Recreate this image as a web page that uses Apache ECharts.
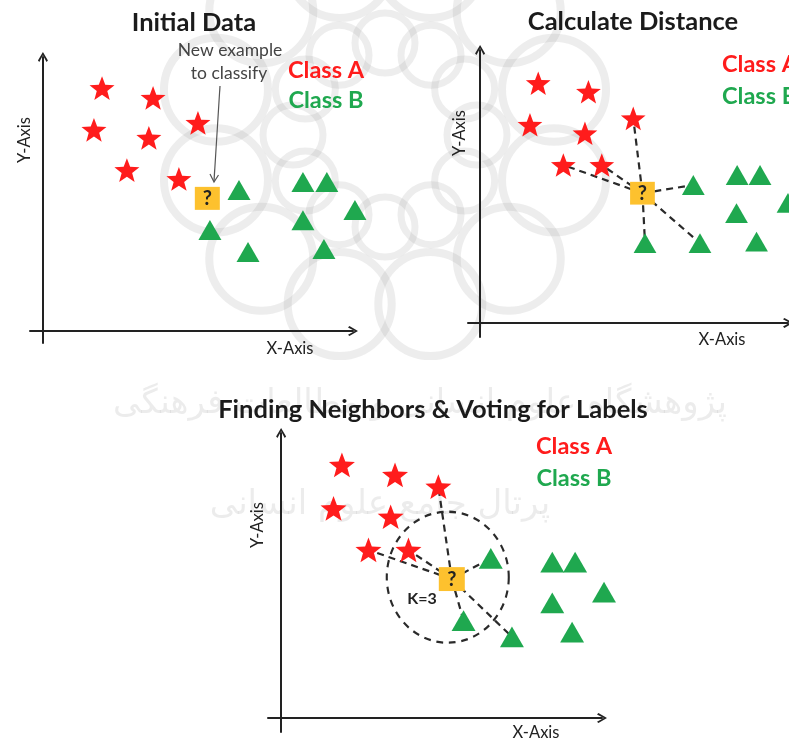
<!DOCTYPE html>
<html><head><meta charset="utf-8">
<script src="https://cdn.jsdelivr.net/npm/echarts@6/dist/echarts.min.js"></script>
<style>html,body{margin:0;padding:0;background:#fff}#c{width:789px;height:742px}</style>
</head><body><div id="c"></div>
<script>
// ---- data: panel 1 "Initial Data" ----
const initAX = [1.83, 3.41, 1.58, 3.28, 4.80, 2.60, 4.21];
const initAY = [8.15, 7.82, 6.75, 6.48, 6.98, 5.40, 5.10];
const initBX = [6.07, 8.05, 8.79, 9.66, 8.05, 5.17, 6.35, 8.70];
const initBY = [4.73, 5.00, 5.00, 4.06, 3.72, 3.39, 2.65, 2.75];
const initQuery = [5.09, 4.45];
// ---- data: panel 2 "Calculate Distance" ----
const distAX = [1.83, 3.41, 1.57, 3.30, 4.82, 2.62, 3.83];
const distAY = [8.17, 7.88, 6.75, 6.46, 6.97, 5.38, 5.38];
const distBX = [6.71, 8.09, 8.81, 9.69, 8.07, 5.19, 6.92, 8.70];
const distBY = [4.70, 5.04, 5.04, 4.09, 3.74, 2.72, 2.72, 2.77];
const distQuery = [5.11, 4.42];
// ---- data: panel 3 "Finding Neighbors & Voting" ----
const voteAX = [1.81, 3.39, 4.68, 1.56, 3.26, 2.60, 3.79];
const voteAY = [8.16, 7.84, 7.46, 6.76, 6.49, 5.42, 5.42];
const voteBX = [6.24, 8.07, 8.75, 9.61, 8.07, 5.43, 6.87, 8.66];
const voteBY = [5.15, 5.03, 5.03, 4.06, 3.71, 3.14, 2.62, 2.77];
const voteQuery = [5.08, 4.48];
const voteCircleCenter = [4.96, 4.54];
// indices joined to the query by dashed distance lines (panels 2 and 3)
const distNeighborsA = [4, 5, 6];
const distNeighborsB = [0, 5, 6];
const voteNeighborsA = [2, 5, 6];
const voteNeighborsB = [0, 5, 6];

const panelTitles = ['Initial Data', 'Calculate Distance', 'Finding Neighbors & Voting for Labels'];
const classLabels = ['Class A', 'Class B'];
const axisNames = ['X-Axis', 'Y-Axis'];
const kLabel = 'K=3';
const noteLines = ['New example', 'to classify'];

const zip = (xs, ys) => xs.map((x, i) => [x, ys[i]]);
const panelsData = [
  {A: zip(initAX, initAY), B: zip(initBX, initBY), q: initQuery},
  {A: zip(distAX, distAY), B: zip(distBX, distBY), q: distQuery, nA: distNeighborsA, nB: distNeighborsB},
  {A: zip(voteAX, voteAY), B: zip(voteBX, voteBY), q: voteQuery, nA: voteNeighborsA, nB: voteNeighborsB, circle: voteCircleCenter}
];

const STAR = 'path://M50,0L62.3,33L97.6,34.5L70,56.5L79.4,90.5L50,71L20.6,90.5L30,56.5L2.4,34.5L37.7,33Z';
const CHEV = 'path://M5,0L10,8.6L8.6,10L5,3.2L1.4,10L0,8.6Z';
const RED = '#ff1c1c', GREEN = '#1fa84f', BOX = '#fdc12e', INK = '#222';

const layouts = [
  {grid: {left: 30, top: 57, width: 323, height: 286}, x: [-0.40, 9.60], y: [-0.40, 9.19], s: 1.0},
  {grid: {left: 468, top: 50, width: 320, height: 287}, x: [-0.38, 9.69], y: [-0.48, 9.30], s: 0.99},
  {grid: {left: 268, top: 433, width: 334, height: 299}, x: [-0.39, 9.55], y: [-0.45, 9.19], s: 1.04}
];

const grid = [], xAxis = [], yAxis = [], series = [];
layouts.forEach((L, i) => {
  const D = panelsData[i];
  grid.push(Object.assign({containLabel: false}, L.grid));
  const axisCommon = {
    type: 'value', gridIndex: i, splitLine: {show: false}, axisTick: {show: false},
    axisLabel: {show: false},
    axisLine: {show: true, onZero: true, symbol: ['none', CHEV], symbolSize: [10, 10],
      lineStyle: {color: INK, width: 2}}
  };
  xAxis.push(Object.assign({}, axisCommon, {min: L.x[0], max: L.x[1]}));
  yAxis.push(Object.assign({}, axisCommon, {min: L.y[0], max: L.y[1]}));

  if (D.nA) {
    const segs = D.nA.map(k => ({coords: [D.q, D.A[k]]}))
      .concat(D.nB.map(k => ({coords: [D.q, D.B[k]]})));
    series.push({
      type: 'lines', coordinateSystem: 'cartesian2d', xAxisIndex: i, yAxisIndex: i,
      data: segs, silent: true, z: 1,
      lineStyle: {color: '#2a2a2a', width: 2.2, type: [7, 5], opacity: 1, curveness: 0}
    });
  }
  if (D.circle) {
    series.push({
      type: 'scatter', xAxisIndex: i, yAxisIndex: i, data: [D.circle],
      symbol: 'circle', symbolSize: [122, 131], z: 1, silent: true, clip: false,
      itemStyle: {color: 'rgba(0,0,0,0)', borderColor: '#2a2a2a', borderWidth: 2.2, borderType: [7, 6], opacity: 1}
    });
  }
  series.push({
    name: classLabels[0], type: 'scatter', xAxisIndex: i, yAxisIndex: i, data: D.A, z: 3, clip: false,
    symbol: STAR, symbolSize: 25 * L.s, symbolKeepAspect: true, itemStyle: {color: RED, opacity: 1}
  });
  series.push({
    name: classLabels[1], type: 'scatter', xAxisIndex: i, yAxisIndex: i, data: D.B, z: 3, clip: false,
    symbol: 'triangle', symbolSize: [23 * L.s, 20 * L.s], itemStyle: {color: GREEN, opacity: 1}
  });
  series.push({
    type: 'scatter', xAxisIndex: i, yAxisIndex: i, data: [D.q], z: 4, clip: false,
    symbol: 'rect', symbolSize: [25 * L.s, 23 * L.s], itemStyle: {color: BOX, opacity: 1},
    label: {show: true, position: 'inside', formatter: '?', color: INK,
      fontFamily: 'Lato', fontWeight: 'bold', fontSize: 20}
  });
});

const F = 'Lato, "Open Sans", sans-serif';
function txt(t, x, y, o) {
  return Object.assign({type: 'text', x: x, y: y, z: 10, silent: true,
    style: Object.assign({text: t, fill: INK, font: '16.5px ' + F, textAlign: 'center', textVerticalAlign: 'middle'}, o && o.style)},
    o && o.el);
}
const titleFont = 'bold 25.5px ' + F;
const classFont = 'bold 23.5px ' + F;

// faint background watermark (decorative rings)
const WM = 'rgba(150,150,150,0.17)';
const wm = [];
for (let k = 0; k < 12; k++) {
  const a = k * Math.PI / 6;
  wm.push({type: 'circle', z: -10, silent: true,
    shape: {cx: 385 + 92 * Math.cos(a), cy: 135 + 92 * Math.sin(a), r: 30},
    style: {fill: null, stroke: WM, lineWidth: 7}});
  const b = a + Math.PI / 12;
  wm.push({type: 'circle', z: -10, silent: true,
    shape: {cx: 385 + 175 * Math.cos(b), cy: 135 + 175 * Math.sin(b), r: 52},
    style: {fill: null, stroke: WM, lineWidth: 8}});
}

const graphics = wm.concat([
  {type: 'text', x: 420, y: 404, z: -5, silent: true,
   style: {text: 'پژوهشگاه علوم انسانی و مطالعات فرهنگی', font: '34px "DejaVu Sans"', fill: 'rgba(120,120,120,0.14)', textAlign: 'center', textVerticalAlign: 'middle'}},
  {type: 'text', x: 380, y: 505, z: -5, silent: true,
   style: {text: 'پرتال جامع علوم انسانی', font: '34px "DejaVu Sans"', fill: 'rgba(120,120,120,0.14)', textAlign: 'center', textVerticalAlign: 'middle'}},
  txt(panelTitles[0], 194, 23, {style: {font: titleFont, fill: '#1b1b1b'}}),
  txt(panelTitles[1], 633, 22, {style: {font: titleFont, fill: '#1b1b1b'}}),
  txt(panelTitles[2], 433, 410, {style: {font: titleFont, fill: '#1b1b1b'}}),
  txt(classLabels[0], 326, 70, {style: {font: classFont, fill: RED}}),
  txt(classLabels[1], 326, 100, {style: {font: classFont, fill: GREEN}}),
  txt(classLabels[0], 722, 64, {style: {font: classFont, fill: RED, textAlign: 'left'}}),
  txt(classLabels[1], 722, 96, {style: {font: classFont, fill: GREEN, textAlign: 'left'}}),
  txt(classLabels[0], 574, 446, {style: {font: classFont, fill: RED}}),
  txt(classLabels[1], 574, 478, {style: {font: classFont, fill: GREEN}}),
  txt(noteLines[0], 230, 50, {style: {fill: '#444', font: '17.5px ' + F}}),
  txt(noteLines[1], 229, 73, {style: {fill: '#444', font: '17.5px ' + F}}),
  txt(axisNames[0], 290, 349),
  txt(axisNames[0], 722, 340),
  txt(axisNames[0], 536, 733),
  txt(axisNames[1], 25, 140, {el: {rotation: Math.PI / 2}}),
  txt(axisNames[1], 460, 133, {el: {rotation: Math.PI / 2}}),
  txt(axisNames[1], 258, 525, {el: {rotation: Math.PI / 2}}),
  txt(kLabel, 422, 599, {style: {font: 'bold 16px ' + F}}),
  {type: 'line', z: 10, silent: true, shape: {x1: 220, y1: 86, x2: 214, y2: 181}, style: {stroke: '#555', lineWidth: 1.2}},
  {type: 'polyline', z: 10, silent: true, shape: {points: [[210, 174], [214, 182], [218.5, 175]]}, style: {stroke: '#555', lineWidth: 1.2, fill: null}}
]);

const chart = echarts.init(document.getElementById('c'), null, {renderer: 'canvas'});
chart.setOption({
  animation: false,
  backgroundColor: '#fff',
  grid: grid, xAxis: xAxis, yAxis: yAxis, series: series,
  graphic: {elements: graphics}
});
</script></body></html>
